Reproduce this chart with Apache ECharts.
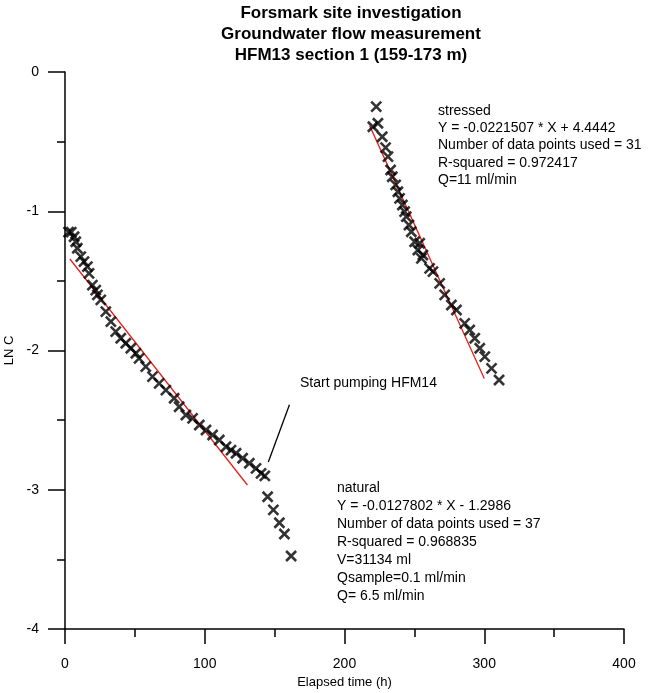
<!DOCTYPE html>
<html>
<head>
<meta charset="utf-8">
<title>HFM13 section 1</title>
<script src="https://cdn.jsdelivr.net/npm/echarts@6/dist/echarts.min.js"></script>
<style>
    html, body { margin: 0; padding: 0; background: #fff; }
    #chart_1 { width: 664px; height: 693px; }
</style>
</head>
<body>
<div id="chart_1"></div>
<script>
// natural period (before pumping HFM14)
var natural_x = [2.5, 4.5, 6.5, 7.7, 8.8, 11.3, 13.6, 16.0, 17.2, 19.6, 22.0, 23.2, 25.6, 29.2, 32.8, 36.3, 39.9,
    43.5, 47.1, 50.7, 53.0, 57.8, 62.6, 67.4, 72.2, 78.1, 81.7, 86.5, 91.3, 96.1, 100.9, 105.6, 110.4, 115.2,
    118.8, 122.4, 127.1, 131.9, 136.7, 140.3, 143.0];
var natural_y = [-1.15, -1.15, -1.183, -1.219, -1.266, -1.326, -1.362, -1.398, -1.446, -1.530, -1.566, -1.601,
    -1.637, -1.721, -1.793, -1.865, -1.912, -1.948, -1.984, -2.020, -2.056, -2.116, -2.188, -2.236, -2.284,
    -2.343, -2.404, -2.463, -2.487, -2.535, -2.571, -2.607, -2.643, -2.691, -2.715, -2.738, -2.774, -2.810,
    -2.846, -2.882, -2.90];
// after start pumping
var pumping_x = [145.0, 149.1, 153.4, 157.0, 161.8];
var pumping_y = [-3.050, -3.145, -3.237, -3.318, -3.476];
// stressed period
var stressed_x = [222.7, 220.3, 223.9, 227.0, 229.4, 231.1, 233.0, 234.2, 236.6, 238.2, 239.4, 241.4, 243.0,
    244.2, 246.1, 247.8, 250.2, 252.5, 253.8, 255.0, 256.1, 260.9, 263.3, 268.1, 271.7, 276.5, 280.1, 286.0,
    289.6, 293.2, 296.8, 300.4, 305.2, 310.6];
var stressed_y = [-0.249, -0.393, -0.368, -0.465, -0.543, -0.608, -0.704, -0.752, -0.811, -0.860, -0.907,
    -0.955, -1.003, -1.039, -1.099, -1.147, -1.219, -1.278, -1.230, -1.338, -1.314, -1.410, -1.434, -1.518,
    -1.601, -1.673, -1.709, -1.805, -1.853, -1.912, -1.984, -2.044, -2.128, -2.212];
// fitted lines (end points)
var natural_fit = [[3.5, -1.343], [130.5, -2.966]];
var stressed_fit = [[218, -0.385], [300, -2.201]];
var pointer_line = [[145.5, -2.80], [160.6, -2.39]];

var x_ticks = [0, 100, 200, 300, 400];
var y_ticks = [-4, -3, -2, -1, 0];

var natural_text = ['natural', 'Y = -0.0127802 * X - 1.2986', 'Number of data points used = 37',
    'R-squared = 0.968835', 'V=31134 ml', 'Qsample=0.1 ml/min', 'Q= 6.5 ml/min'];
var stressed_text = ['stressed', 'Y = -0.0221507 * X + 4.4442', 'Number of data points used = 31',
    'R-squared = 0.972417', 'Q=11 ml/min'];

function pairs(xs, ys) {
    var d = [];
    for (var i = 0; i < xs.length; i++) {
        d.push([xs[i], ys[i]]);
    }
    return d;
}

var font = 'Liberation Sans, Arial, sans-serif';
var cross = 'path://M0,0L10,10M10,0L0,10';
var crossStyle = { color: 'rgba(0,0,0,0)', borderColor: '#000', borderWidth: 2.6 };

var chart = echarts.init(document.getElementById('chart_1'));
var option = {
    animation: false,
    backgroundColor: '#fff',
    title: {
        text: 'Forsmark site investigation\nGroundwater flow measurement\nHFM13 section 1 (159-173 m)',
        left: 346,
        top: -2,
        textAlign: 'center',
        textStyle: {
            fontFamily: font,
            fontSize: 17,
            fontWeight: 'bold',
            color: '#000',
            lineHeight: 21
        }
    },
    grid: { left: 65, right: 40, top: 72, bottom: 64, outerBoundsMode: 'none', containLabel: false },
    xAxis: {
        type: 'value',
        min: 0,
        max: 400,
        interval: 100,
        name: 'Elapsed time (h)',
        nameLocation: 'middle',
        nameGap: 47,
        nameTextStyle: { fontFamily: font, fontSize: 13, color: '#000' },
        axisLine: { show: true, onZero: false, lineStyle: { color: '#000', width: 1.5 } },
        axisTick: { show: true, inside: false, length: 15, lineStyle: { color: '#000', width: 1.5 } },
        minorTick: { show: true, splitNumber: 2, length: 8, lineStyle: { color: '#000', width: 1.5 } },
        splitLine: { show: false },
        axisLabel: {
            margin: 28,
            fontFamily: font,
            fontSize: 14,
            color: '#000',
            formatter: function (v) { return x_ticks.indexOf(v) >= 0 ? String(v) : ''; }
        }
    },
    yAxis: {
        type: 'value',
        min: -4,
        max: 0,
        interval: 1,
        name: 'LN C',
        nameLocation: 'middle',
        nameRotate: 90,
        nameGap: 40,
        nameTextStyle: { fontFamily: font, fontSize: 13, color: '#000' },
        axisLine: { show: true, onZero: false, lineStyle: { color: '#000', width: 1.5 } },
        axisTick: { show: true, inside: false, length: 17, lineStyle: { color: '#000', width: 1.5 } },
        minorTick: { show: true, splitNumber: 2, length: 8, lineStyle: { color: '#000', width: 1.5 } },
        splitLine: { show: false },
        axisLabel: {
            margin: 26,
            fontFamily: font,
            fontSize: 14,
            color: '#000',
            formatter: function (v) { return y_ticks.indexOf(v) >= 0 ? String(v) : ''; }
        }
    },
    series: [
        {
            name: 'natural fit',
            type: 'line',
            data: natural_fit,
            symbol: 'none',
            lineStyle: { color: '#e8201c', width: 1.3 },
            z: 1
        },
        {
            name: 'stressed fit',
            type: 'line',
            data: stressed_fit,
            symbol: 'none',
            lineStyle: { color: '#e8201c', width: 1.3 },
            z: 1
        },
        {
            name: 'pointer',
            type: 'line',
            data: pointer_line,
            symbol: 'none',
            lineStyle: { color: '#000', width: 1.3 }
        },
        {
            name: 'natural',
            type: 'scatter',
            data: pairs(natural_x, natural_y),
            symbol: cross,
            symbolSize: 10,
            itemStyle: crossStyle,
            z: 3
        },
        {
            name: 'pumping',
            type: 'scatter',
            data: pairs(pumping_x, pumping_y),
            symbol: cross,
            symbolSize: 10,
            itemStyle: crossStyle,
            z: 3
        },
        {
            name: 'stressed',
            type: 'scatter',
            data: pairs(stressed_x, stressed_y),
            symbol: cross,
            symbolSize: 10,
            itemStyle: crossStyle,
            z: 3
        }
    ],
    graphic: [
        {
            type: 'text', left: 438, top: 102,
            style: { text: stressed_text.join('\n'), font: '14px ' + font, lineHeight: 17.4, fill: '#000' }
        },
        {
            type: 'text', left: 337, top: 479,
            style: { text: natural_text.join('\n'), font: '14px ' + font, lineHeight: 18, fill: '#000' }
        },
        {
            type: 'text', left: 300, top: 376,
            style: { text: 'Start pumping HFM14', font: '14px ' + font, fill: '#000' }
        }
    ]
};
chart.setOption(option);
</script>
</body>
</html>
